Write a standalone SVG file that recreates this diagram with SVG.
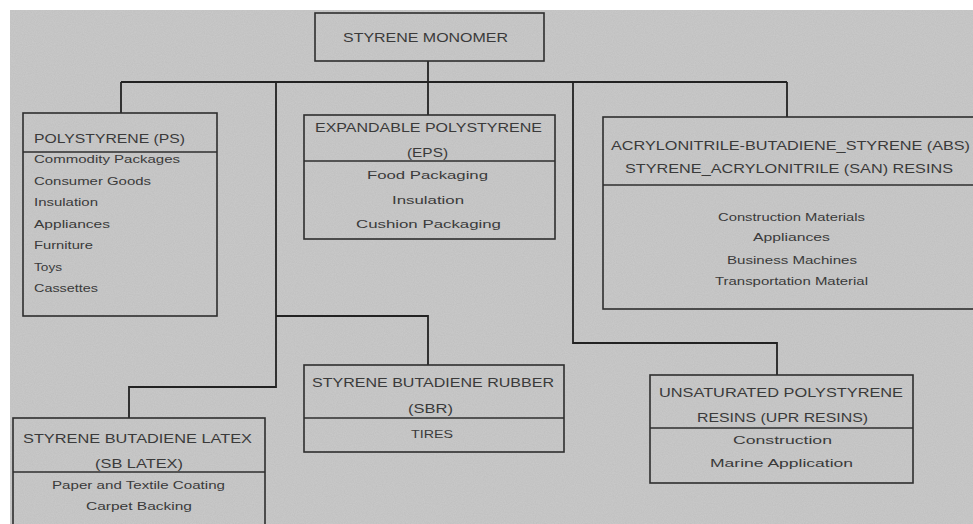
<svg xmlns="http://www.w3.org/2000/svg" width="973" height="524" viewBox="0 0 973 524">
<defs>
<filter id="grain" x="0" y="0" width="100%" height="100%">
<feTurbulence type="fractalNoise" baseFrequency="0.9" numOctaves="2" seed="3" result="n"/>
<feColorMatrix in="n" type="matrix" values="0 0 0 0 0.45  0 0 0 0 0.45  0 0 0 0 0.45  0 0 0 0.55 -0.12"/>
</filter>
</defs>
<style>
.box{fill:none;stroke:#2e2e2e;stroke-width:1.6}
.div{stroke:#2e2e2e;stroke-width:1.6}
.conn{fill:none;stroke:#222;stroke-width:1.8}
.h{font-family:"Liberation Sans",Arial,sans-serif;font-size:13px;fill:#3a3a3a}
.i{font-family:"Liberation Sans",Arial,sans-serif;font-size:11px;fill:#3a3a3a}
.s{font-family:"Liberation Sans",Arial,sans-serif;font-size:10.5px;fill:#3a3a3a}
</style>
<rect x="0" y="0" width="973" height="524" fill="#ffffff"/>
<rect x="10" y="10" width="963" height="514" fill="#c8c8c8"/>
<rect x="10" y="10" width="963" height="514" filter="url(#grain)"/>

<g id="connectors">
<path class="conn" d="M428 61 V82"/>
<path class="conn" d="M121 82 H787"/>
<path class="conn" d="M121 82 V113"/>
<path class="conn" d="M428 82 V115"/>
<path class="conn" d="M787 82 V117"/>
<path class="conn" d="M276 82 V387 H129 V418"/>
<path class="conn" d="M276 316 H428 V365"/>
<path class="conn" d="M573 82 V343 H777 V375"/>
</g>

<g id="styrene-monomer">
<rect class="box" x="315" y="13" width="229" height="48"/>
<text class="h" x="343" y="42" textLength="165" lengthAdjust="spacingAndGlyphs">STYRENE MONOMER</text>
</g>

<g id="polystyrene">
<rect class="box" x="23" y="113" width="194" height="203"/>
<line class="div" x1="23" y1="152" x2="217" y2="152"/>
<text class="h" x="34" y="143" textLength="151" lengthAdjust="spacingAndGlyphs">POLYSTYRENE (PS)</text>
<text class="i" x="34" y="163" textLength="146" lengthAdjust="spacingAndGlyphs">Commodity Packages</text>
<text class="i" x="34" y="185" textLength="117" lengthAdjust="spacingAndGlyphs">Consumer Goods</text>
<text class="i" x="34" y="206" textLength="64" lengthAdjust="spacingAndGlyphs">Insulation</text>
<text class="i" x="34" y="228" textLength="76" lengthAdjust="spacingAndGlyphs">Appliances</text>
<text class="i" x="34" y="249" textLength="59" lengthAdjust="spacingAndGlyphs">Furniture</text>
<text class="i" x="34" y="271" textLength="28" lengthAdjust="spacingAndGlyphs">Toys</text>
<text class="i" x="34" y="292" textLength="64" lengthAdjust="spacingAndGlyphs">Cassettes</text>
</g>

<g id="eps">
<rect class="box" x="304" y="115" width="251" height="124"/>
<line class="div" x1="304" y1="161" x2="555" y2="161"/>
<text class="h" x="315" y="132" textLength="227" lengthAdjust="spacingAndGlyphs">EXPANDABLE POLYSTYRENE</text>
<text class="h" x="407" y="157" textLength="41" lengthAdjust="spacingAndGlyphs">(EPS)</text>
<text class="i" x="367" y="179" textLength="121" lengthAdjust="spacingAndGlyphs">Food Packaging</text>
<text class="i" x="392" y="204" textLength="72" lengthAdjust="spacingAndGlyphs">Insulation</text>
<text class="i" x="356" y="228" textLength="145" lengthAdjust="spacingAndGlyphs">Cushion Packaging</text>
</g>

<g id="abs-san">
<rect class="box" x="603" y="117" width="380" height="192"/>
<line class="div" x1="603" y1="185" x2="973" y2="185"/>
<text class="h" x="611" y="150" textLength="359" lengthAdjust="spacingAndGlyphs">ACRYLONITRILE-BUTADIENE_STYRENE (ABS)</text>
<text class="h" x="625" y="173" textLength="328" lengthAdjust="spacingAndGlyphs">STYRENE_ACRYLONITRILE (SAN) RESINS</text>
<text class="s" x="718" y="221" textLength="147" lengthAdjust="spacingAndGlyphs">Construction Materials</text>
<text class="s" x="753" y="241" textLength="77" lengthAdjust="spacingAndGlyphs">Appliances</text>
<text class="s" x="727" y="264" textLength="130" lengthAdjust="spacingAndGlyphs">Business Machines</text>
<text class="s" x="715" y="285" textLength="153" lengthAdjust="spacingAndGlyphs">Transportation Material</text>
</g>

<g id="sbr">
<rect class="box" x="304" y="365" width="260" height="87"/>
<line class="div" x1="304" y1="418" x2="564" y2="418"/>
<text class="h" x="312" y="387" textLength="242" lengthAdjust="spacingAndGlyphs">STYRENE BUTADIENE RUBBER</text>
<text class="h" x="408" y="413" textLength="45" lengthAdjust="spacingAndGlyphs">(SBR)</text>
<text class="i" x="411" y="438" textLength="42" lengthAdjust="spacingAndGlyphs">TIRES</text>
</g>

<g id="sb-latex">
<rect class="box" x="13" y="418" width="252" height="120"/>
<line class="div" x1="13" y1="472" x2="265" y2="472"/>
<text class="h" x="23" y="443" textLength="229" lengthAdjust="spacingAndGlyphs">STYRENE BUTADIENE LATEX</text>
<text class="h" x="95" y="468" textLength="88" lengthAdjust="spacingAndGlyphs">(SB LATEX)</text>
<text class="s" x="52" y="489" textLength="173" lengthAdjust="spacingAndGlyphs">Paper and Textile Coating</text>
<text class="s" x="86" y="510" textLength="106" lengthAdjust="spacingAndGlyphs">Carpet Backing</text>
</g>

<g id="upr">
<rect class="box" x="650" y="375" width="263" height="108"/>
<line class="div" x1="650" y1="428" x2="913" y2="428"/>
<text class="h" x="659" y="397" textLength="244" lengthAdjust="spacingAndGlyphs">UNSATURATED POLYSTYRENE</text>
<text class="h" x="697" y="422" textLength="171" lengthAdjust="spacingAndGlyphs">RESINS (UPR RESINS)</text>
<text class="i" x="733" y="444" textLength="99" lengthAdjust="spacingAndGlyphs">Construction</text>
<text class="i" x="710" y="467" textLength="143" lengthAdjust="spacingAndGlyphs">Marine Application</text>
</g>
</svg>
